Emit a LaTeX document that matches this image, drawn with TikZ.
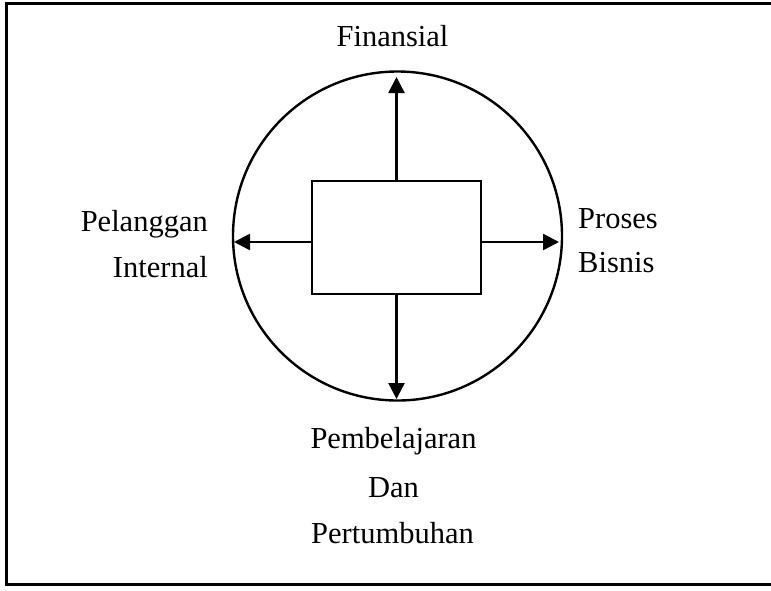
\documentclass[tikz,border=0pt]{standalone}
\usepackage{fontspec}
\setmainfont{Liberation Serif}
\usepackage{tikz}
\usetikzlibrary{shapes, arrows.meta}

\tikzset{
	label/.style={font=\fontsize{30.5}{36}\selectfont, inner sep=0pt},
	arr/.style={line width=2.4pt, -{Triangle[length=16pt,width=16pt]}}
}

\begin{document}
\begin{tikzpicture}[x=1pt, y=-1pt]
		\clip (0,0) rectangle (771,590);
		\fill[white] (0,0) rectangle (771,590);
		% frame, its right side lies outside the page
		\draw[line width=3pt] (780,3) -| (6,584) -- (780,584);
		\node[draw, circle, line width=2.4pt, minimum size=329pt, inner sep=0pt] (ring) at (397.5,236) {};
		\node[draw, rectangle, line width=2.8pt, minimum width=169pt, minimum height=113pt, inner sep=0pt] (sq) at (396.5,237.5) {};
		\coordinate (fin) at (396.5,77);
		\coordinate (pem) at (396.5,399);
		\coordinate (pel) at (234,242);
		\coordinate (pro) at (559,242);
		\draw[arr] (sq.north) -- (fin);
		\draw[arr] (sq.south) -- (pem);
		\draw[arr] (sq.west |- pel) -- (pel);
		\draw[arr] (sq.east |- pro) -- (pro);
		\node[label, anchor=base] (finansial) at (392.5,46) {Finansial};
		\node[label, anchor=base east] (pelanggan) at (208,231) {Pelanggan};
		\node[label, anchor=base east] (internal) at (208,277) {Internal};
		\node[label, anchor=base west] (proses) at (578,228) {Proses};
		\node[label, anchor=base west] (bisnis) at (578,272) {Bisnis};
		\node[label, anchor=base] (pembelajaran) at (393.5,448) {Pembelajaran};
		\node[label, anchor=base] (dan) at (393.5,497) {Dan};
		\node[label, anchor=base] (pertumbuhan) at (392.5,543) {Pertumbuhan};
		\end{tikzpicture}
\end{document}
